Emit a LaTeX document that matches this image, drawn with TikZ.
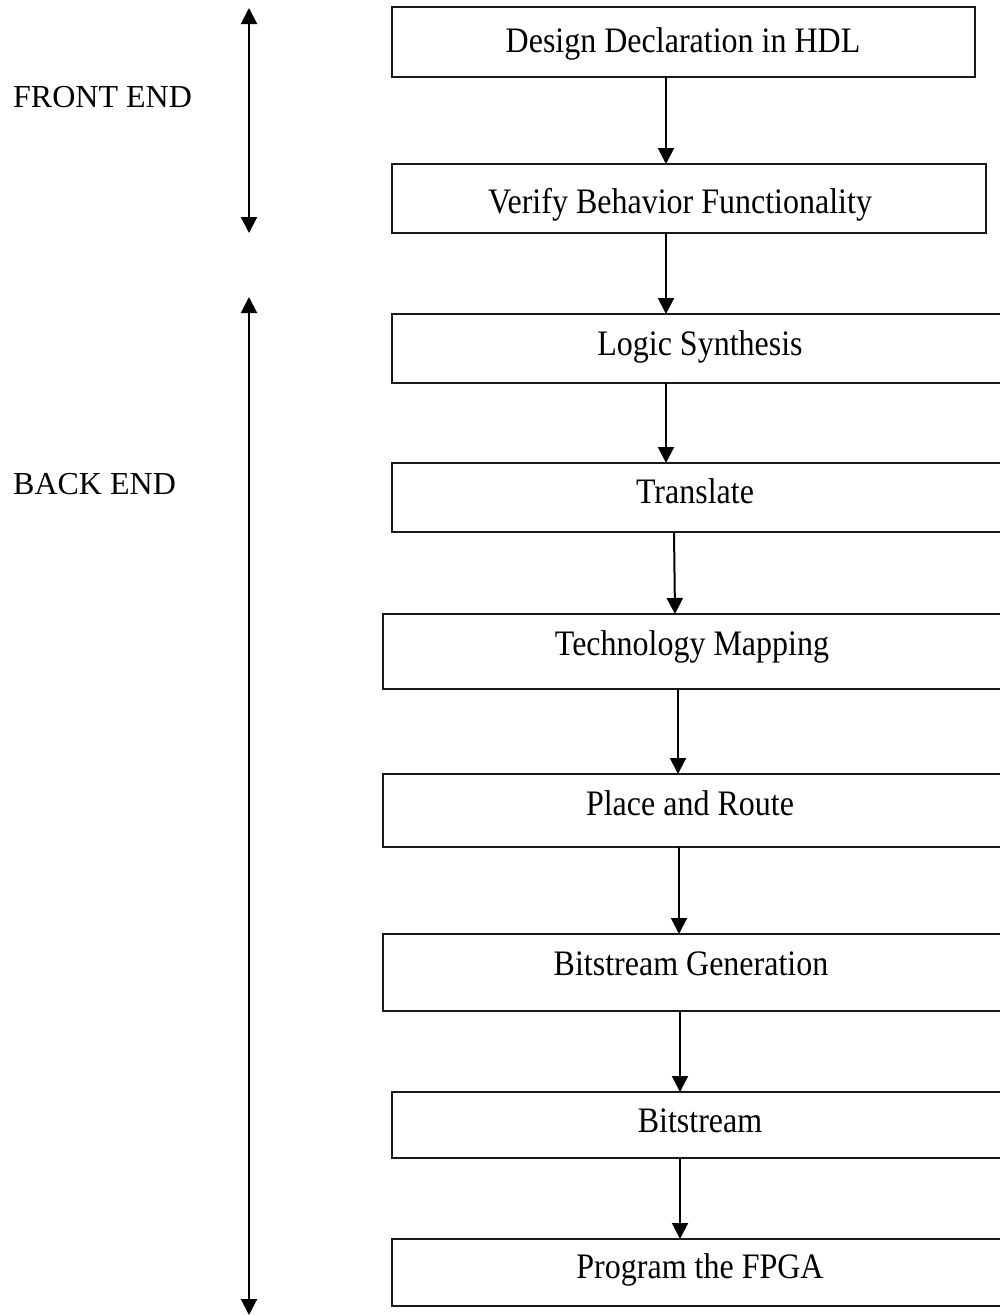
\documentclass[tikz,border=0pt]{standalone}
\usepackage{fontspec}
\setmainfont{Liberation Serif}
\usetikzlibrary{arrows.meta}
\newcommand{\tallt}[1]{\scalebox{1}[1.12]{#1}}
\begin{document}
\begin{tikzpicture}[x=1pt,y=-1pt,
  stepbox/.style={draw=black!90,line width=2pt,anchor=north west,inner sep=0pt,outer sep=0pt},
  lbl/.style={font=\fontsize{32}{36}\selectfont,anchor=base,inner sep=0pt},
  arr/.style={line width=2pt,-{Triangle[length=16pt,width=16pt]}},
  darr/.style={line width=2pt,{Triangle[length=16pt,width=16pt]}-{Triangle[length=16pt,width=16pt]}}]
\useasboundingbox (0,0) rectangle (999,1315);
% boxes
\node[stepbox,minimum width=583pt,minimum height=70pt] (b1) at (392,7) {};
\node[stepbox,minimum width=594pt,minimum height=69pt] (b2) at (392,164) {};
\node[stepbox,minimum width=616pt,minimum height=69pt] (b3) at (392,314) {};
\node[stepbox,minimum width=616pt,minimum height=69pt] (b4) at (392,463) {};
\node[stepbox,minimum width=625pt,minimum height=75pt] (b5) at (383,614) {};
\node[stepbox,minimum width=625pt,minimum height=73pt] (b6) at (383,774) {};
\node[stepbox,minimum width=625pt,minimum height=77pt] (b7) at (383,934) {};
\node[stepbox,minimum width=616pt,minimum height=66pt] (b8) at (392,1092) {};
\node[stepbox,minimum width=616pt,minimum height=67pt] (b9) at (392,1239) {};
% texts
\node[lbl] (t1) at (683,52) {\tallt{Design Declaration in HDL}};
\node[lbl] (t2) at (680,213) {\tallt{Verify Behavior Functionality}};
\node[lbl] (t3) at (700,355) {\tallt{Logic Synthesis}};
\node[lbl] (t4) at (695,503) {\tallt{Translate}};
\node[lbl] (t5) at (692,655) {\tallt{Technology Mapping}};
\node[lbl] (t6) at (690,815) {\tallt{Place and Route}};
\node[lbl] (t7) at (691,975) {\tallt{Bitstream Generation}};
\node[lbl] (t8) at (700,1132) {\tallt{Bitstream}};
\node[lbl] (t9) at (700,1278) {\tallt{Program the FPGA}};
% side labels
\node[lbl,anchor=base west] (fe) at (13,107) {FRONT END};
\node[lbl,anchor=base west] (be) at (13,494) {BACK END};
% flow arrows
\draw[arr] (b1.south -| 666,0) -- (b2.north -| 666,0);
\draw[arr] (b2.south -| 666,0) -- (b3.north -| 666,0);
\draw[arr] (b3.south -| 666,0) -- (b4.north -| 666,0);
\draw[arr] (b4.south -| 674,0) -- (b5.north -| 675,0);
\draw[arr] (b5.south -| 678,0) -- (b6.north -| 678,0);
\draw[arr] (b6.south -| 679,0) -- (b7.north -| 679,0);
\draw[arr] (b7.south -| 680,0) -- (b8.north -| 680,0);
\draw[arr] (b8.south -| 680,0) -- (b9.north -| 680,0);
% side range arrows
\coordinate (fe1) at (249,8);
\coordinate (fe2) at (249,233);
\coordinate (be1) at (249,297);
\coordinate (be2) at (249,1315);
\draw[darr] (fe1) -- (fe2);
\draw[darr] (be1) -- (be2);
\end{tikzpicture}
\end{document}
